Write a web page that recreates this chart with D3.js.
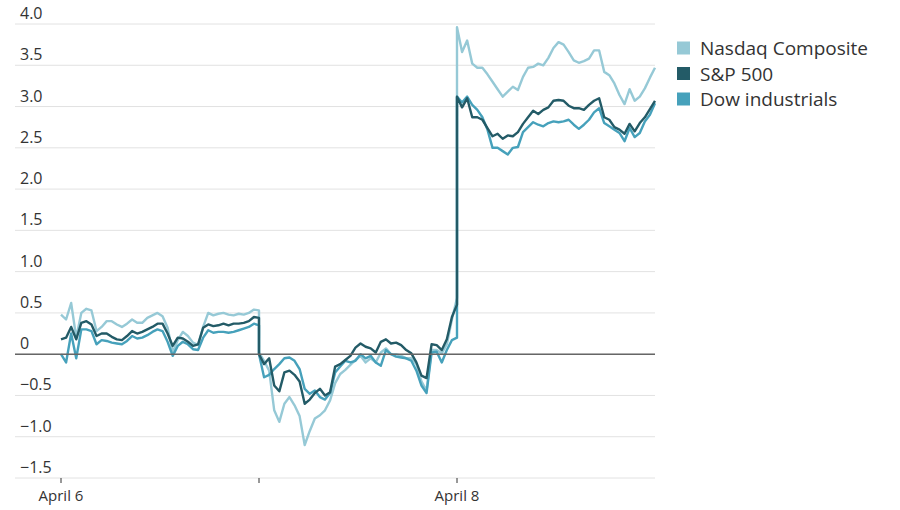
<!DOCTYPE html>
<html>
<head>
<meta charset="utf-8">
<script src="https://cdn.jsdelivr.net/npm/d3@7"></script>
<style>
  body { margin: 0; background: #fff; }
  text { font-family: "Open Sans", "Noto Sans", sans-serif; fill: #333; }
</style>
</head>
<body>
<div id="chart"></div>
<script>
var ctx = {
    w: 900,
    h: 510,
    left: 15,
    right: 655,
    top: 24,
    bottom: 478,
};

// three trading days, one reading every 10 minutes (0..390 min per day)
var days = ["April 6", "April 7", "April 8"];
var minutes = d3.range(0, 391, 10);
var yTicks = [-1.5, -1.0, -0.5, 0, 0.5, 1.0, 1.5, 2.0, 2.5, 3.0, 3.5, 4.0];
var xTickLabels = ["April 6", "", "April 8"];

var seriesNames = ["Nasdaq Composite", "S&P 500", "Dow industrials"];
var seriesColors = ["#96c9d6", "#235b67", "#46a1bb"];

// percent change, one row per day
var nasdaq = [
    0.48, 0.42, 0.62, 0.2, 0.5, 0.55, 0.53, 0.28, 0.33, 0.4, 0.4, 0.36, 0.33, 0.37, 0.42, 0.38, 0.38, 0.44, 0.47, 0.5,
    0.46, 0.32, 0.02, 0.17, 0.27, 0.22, 0.14, 0.11, 0.33, 0.5, 0.47, 0.49, 0.5, 0.48, 0.47, 0.49, 0.48, 0.5, 0.54, 0.53,
    0.02, -0.08, -0.2, -0.68, -0.82, -0.6, -0.52, -0.62, -0.75, -1.1, -0.93, -0.78, -0.74, -0.68, -0.56, -0.35, -0.24, -0.19, -0.13, -0.07,
    -0.02, -0.1, -0.05, -0.1, 0.02, 0.07, 0.0, 0.0, -0.02, -0.05, -0.05, -0.12, -0.33, -0.44, 0.05, 0.05, 0.01, 0.12, 0.42, 0.68,
    3.96, 3.66, 3.8, 3.52, 3.47, 3.47, 3.39, 3.3, 3.21, 3.12, 3.18, 3.24, 3.2, 3.36, 3.47, 3.48, 3.52, 3.5, 3.59, 3.71,
    3.78, 3.75, 3.66, 3.56, 3.53, 3.55, 3.58, 3.68, 3.68, 3.42, 3.38, 3.28, 3.14, 3.03, 3.21, 3.07, 3.12, 3.22, 3.35, 3.47
];
var sp500 = [
    0.18, 0.2, 0.33, 0.18, 0.38, 0.4, 0.36, 0.22, 0.25, 0.25, 0.21, 0.18, 0.17, 0.22, 0.28, 0.25, 0.27, 0.3, 0.33, 0.37,
    0.37, 0.25, 0.1, 0.2, 0.19, 0.15, 0.1, 0.12, 0.32, 0.36, 0.34, 0.35, 0.37, 0.35, 0.37, 0.37, 0.38, 0.4, 0.45, 0.44,
    0.0, -0.12, -0.05, -0.38, -0.45, -0.22, -0.2, -0.25, -0.33, -0.6, -0.55, -0.47, -0.42, -0.5, -0.46, -0.15, -0.12, -0.07, -0.02, 0.08,
    0.13, 0.09, 0.07, 0.02, 0.15, 0.18, 0.13, 0.14, 0.11, 0.05, 0.01, -0.1, -0.26, -0.29, 0.12, 0.11, 0.05, 0.18, 0.45, 0.6,
    3.12, 2.99, 3.1, 2.87, 2.87, 2.84, 2.74, 2.64, 2.67, 2.61, 2.65, 2.64, 2.69, 2.79, 2.87, 2.95, 2.91, 2.96, 2.99, 3.07,
    3.08, 3.07, 3.01, 2.98, 2.98, 2.96, 3.02, 3.07, 3.1, 2.87, 2.84, 2.75, 2.72, 2.67, 2.79, 2.7, 2.8, 2.87, 2.97, 3.07
];
var dow = [
    0.0, -0.1, 0.25, -0.05, 0.3, 0.3, 0.28, 0.12, 0.17, 0.16, 0.14, 0.13, 0.12, 0.16, 0.22, 0.19, 0.2, 0.23, 0.27, 0.3,
    0.28, 0.15, -0.02, 0.1, 0.15, 0.12, 0.06, 0.05, 0.2, 0.29, 0.26, 0.27, 0.27, 0.26, 0.27, 0.29, 0.31, 0.33, 0.37, 0.35,
    0.0, -0.28, -0.25, -0.18, -0.12, -0.05, -0.04, -0.08, -0.18, -0.42, -0.48, -0.44, -0.52, -0.55, -0.47, -0.22, -0.15, -0.08, -0.1, -0.08,
    0.0, -0.05, -0.02, -0.1, -0.14, 0.05, 0.0, -0.03, -0.04, -0.05, -0.08, -0.2, -0.38, -0.47, 0.02, 0.03, -0.1, 0.05, 0.17, 0.2,
    3.12, 3.05, 3.12, 3.02, 2.96, 2.87, 2.72, 2.5, 2.5, 2.46, 2.42, 2.5, 2.51, 2.69, 2.75, 2.81, 2.78, 2.76, 2.8, 2.82,
    2.81, 2.82, 2.84, 2.78, 2.73, 2.78, 2.84, 2.93, 2.98, 2.8, 2.76, 2.72, 2.68, 2.58, 2.74, 2.63, 2.68, 2.82, 2.9, 3.04
];

var toPoints = function(values) {
    var pts = [];
    days.forEach(function(day, d) {
        minutes.forEach(function(m, j) {
            pts.push({ t: d * 390 + m, v: values[d * minutes.length + j] });
        });
    });
    return pts;
};

var svg = d3.select("#chart").append("svg")
    .attr("width", ctx.w)
    .attr("height", ctx.h);

var x = d3.scaleLinear()
    .domain([0, days.length * 390])
    .range([61, ctx.right]);

var y = d3.scaleLinear()
    .domain([-1.5, 4.0])
    .range([ctx.bottom, ctx.top]);

// grid
var grid = svg.append("g");
grid.selectAll("line")
    .data(yTicks)
    .enter()
    .append("line")
    .attr("x1", ctx.left)
    .attr("x2", ctx.right)
    .attr("y1", d => y(d))
    .attr("y2", d => y(d))
    .attr("stroke", "#e2e2e2")
    .attr("stroke-width", 1);

grid.selectAll("text")
    .data(yTicks)
    .enter()
    .append("text")
    .attr("x", 20)
    .attr("y", d => y(d) - 5)
    .attr("font-size", "16px")
    .text(d => d === 0 ? "0" : d3.format(".1f")(d));

// x axis ticks
var xAxis = svg.append("g");
xAxis.selectAll("line")
    .data(xTickLabels)
    .enter()
    .append("line")
    .attr("x1", (d, i) => x(i * 390))
    .attr("x2", (d, i) => x(i * 390))
    .attr("y1", ctx.bottom)
    .attr("y2", ctx.bottom + 5)
    .attr("stroke", "#333")
    .attr("stroke-width", 1);

xAxis.selectAll("text")
    .data(xTickLabels)
    .enter()
    .append("text")
    .attr("x", (d, i) => x(i * 390))
    .attr("y", ctx.bottom + 23)
    .attr("text-anchor", "middle")
    .attr("font-size", "15px")
    .text(d => d);

// lines
var line = d3.line()
    .x(d => x(d.t))
    .y(d => y(d.v));

var allSeries = [nasdaq, dow, sp500];
var lineColors = [seriesColors[0], seriesColors[2], seriesColors[1]];
svg.append("g")
    .selectAll("path")
    .data(allSeries)
    .enter()
    .append("path")
    .attr("d", d => line(toPoints(d)))
    .attr("fill", "none")
    .attr("stroke", (d, i) => lineColors[i])
    .attr("stroke-width", 2.4)
    .attr("stroke-linejoin", "round");

// zero line
svg.append("line")
    .attr("x1", ctx.left)
    .attr("x2", ctx.right)
    .attr("y1", y(0))
    .attr("y2", y(0))
    .attr("stroke", "#666")
    .attr("stroke-width", 1.5);

// legend
var legend = svg.append("g")
    .attr("transform", "translate(677,48)");

legend.selectAll("rect")
    .data(seriesNames)
    .enter()
    .append("rect")
    .attr("x", 0)
    .attr("y", (d, i) => i * 25.5 - 6.5)
    .attr("width", 13)
    .attr("height", 13)
    .attr("fill", (d, i) => seriesColors[i]);

legend.selectAll("text")
    .data(seriesNames)
    .enter()
    .append("text")
    .attr("x", 23)
    .attr("y", (d, i) => i * 25.5 + 7)
    .attr("font-size", "19px")
    .text(d => d);
</script>
</body>
</html>
